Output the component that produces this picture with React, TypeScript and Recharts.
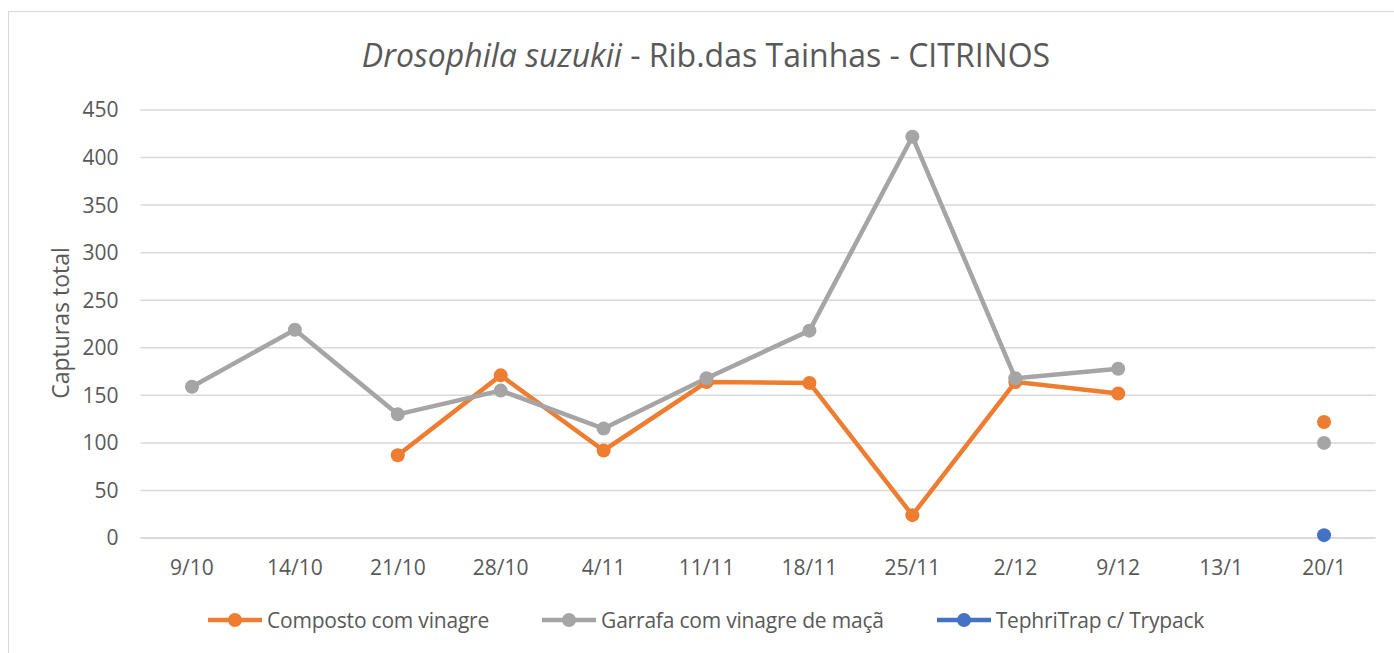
import React from 'react';
import { LineChart, Line, XAxis, YAxis, CartesianGrid, Legend } from 'recharts';

const categories = ['9/10', '14/10', '21/10', '28/10', '4/11', '11/11', '18/11', '25/11', '2/12', '9/12', '13/1', '20/1'];
const composto = [null, null, 87, 171, 92, 164, 163, 24, 164, 152, null, 122];
const garrafa = [159, 219, 130, 155, 115, 168, 218, 422, 168, 178, null, 100];
const tephri = [null, null, null, null, null, null, null, null, null, null, null, 3];
const yTicks = [0, 50, 100, 150, 200, 250, 300, 350, 400, 450];

const seriesNames = ['Composto com vinagre', 'Garrafa com vinagre de maçã', 'TephriTrap c/ Trypack'];
const colors = ['#ed7d31', '#a5a5a5', '#4472c4'];

const data = categories.map((c, i) => ({
  cat: c,
  composto: composto[i],
  garrafa: garrafa[i],
  tephri: tephri[i],
}));

const FONT = '"Open Sans", sans-serif';
const TXT = '#595959';

const LegendContent = (props: any) => {
  const payload = props.payload || [];
  return (
    <div style={{ display: 'flex', alignItems: 'center', fontFamily: FONT, fontSize: 21, color: TXT, whiteSpace: 'nowrap' }}>
      {payload.map((p: any, i: number) => (
        <div key={i} style={{ display: 'flex', alignItems: 'center', marginRight: i < payload.length - 1 ? 53 : 0 }}>
          <svg width={54} height={16} style={{ marginRight: 5 }}>
            <line x1={0} y1={8} x2={54} y2={8} stroke={p.color} strokeWidth={4.5} />
            <circle cx={27} cy={8} r={7} fill={p.color} />
          </svg>
          <span style={{ letterSpacing: -0.2 }}>{p.value}</span>
        </div>
      ))}
    </div>
  );
};

export default function App() {
  return (
    <div style={{ position: 'fixed', left: 0, top: 0, width: 1394, height: 653, background: '#fff', overflow: 'hidden' }}>
      <div style={{ position: 'absolute', left: 8, top: 11, width: 1500, height: 800, border: '1px solid #d9d9d9' }} />
      <div style={{ position: 'absolute', left: 0, width: 1412, top: 33, textAlign: 'center', fontFamily: FONT, fontSize: 32, color: TXT, whiteSpace: 'nowrap' }}>
        <i>Drosophila suzukii</i> - Rib.das Tainhas - CITRINOS
      </div>
      <div style={{ position: 'absolute', left: 60, top: 323, transform: 'translate(-50%, -50%) rotate(-90deg)', fontFamily: FONT, fontSize: 23, color: TXT, whiteSpace: 'nowrap' }}>
        Capturas total
      </div>
      <div style={{ position: 'absolute', left: 0, top: 0 }}>
        <LineChart width={1394} height={653} data={data} margin={{ top: 110, right: 18.5, bottom: 27, left: 80.5 }}>
          <CartesianGrid vertical={false} stroke="#d9d9d9" strokeWidth={1.5} />
          <XAxis
            dataKey="cat"
            scale="band"
            height={60}
            tickLine={false}
            axisLine={{ stroke: '#d9d9d9', strokeWidth: 1.5 }}
            tick={{ fill: TXT, fontSize: 21, fontFamily: FONT }}
            tickMargin={16}
            interval={0}
          />
          <YAxis
            width={60}
            domain={[0, 450]}
            ticks={yTicks}
            tickLine={false}
            axisLine={false}
            tick={{ fill: TXT, fontSize: 21, fontFamily: FONT }}
            tickMargin={16}
            interval={0}
          />
          <Legend
            content={<LegendContent />}
            wrapperStyle={{ position: 'absolute', left: 208, top: 606, width: 'auto' }}
          />
          <Line dataKey="composto" name={seriesNames[0]} stroke={colors[0]} strokeWidth={4.5} dot={{ r: 7, fill: colors[0], stroke: 'none' }} activeDot={false} isAnimationActive={false} connectNulls={false} />
          <Line dataKey="garrafa" name={seriesNames[1]} stroke={colors[1]} strokeWidth={4.5} dot={{ r: 7, fill: colors[1], stroke: 'none' }} activeDot={false} isAnimationActive={false} connectNulls={false} />
          <Line dataKey="tephri" name={seriesNames[2]} stroke={colors[2]} strokeWidth={4.5} dot={{ r: 7, fill: colors[2], stroke: 'none' }} activeDot={false} isAnimationActive={false} connectNulls={false} />
        </LineChart>
      </div>
    </div>
  );
}
